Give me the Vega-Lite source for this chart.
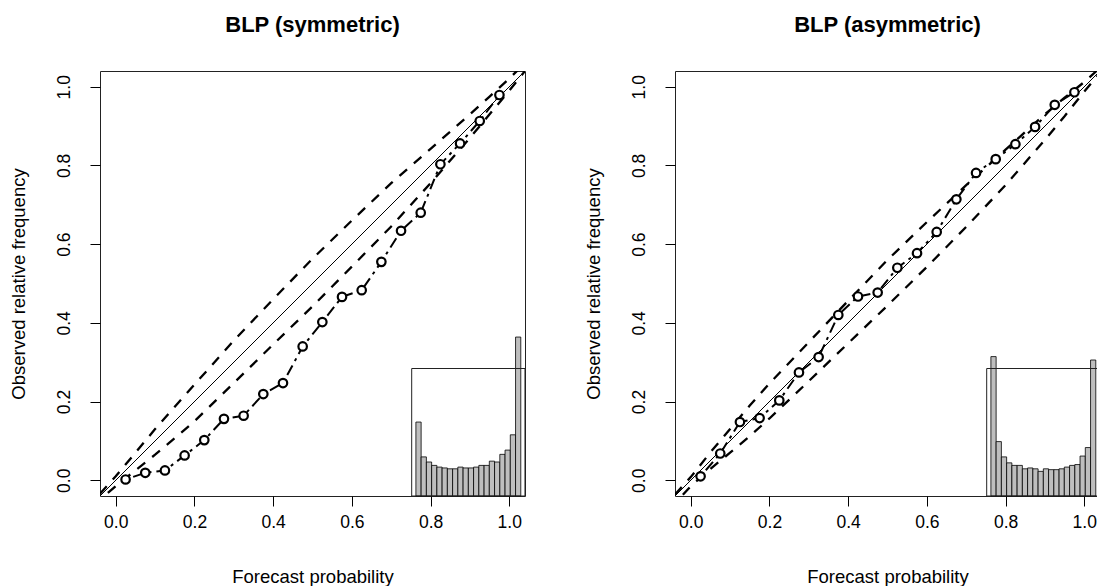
{
  "$schema": "https://vega.github.io/schema/vega-lite/v6.json",
  "padding": {"left": 8, "top": 13, "right": 0, "bottom": 0},
  "spacing": 57,
  "datasets": {
    "bands": [
      {"panel": "sym", "band": "upper", "x": -0.04, "y": -0.034},
      {"panel": "sym", "band": "upper", "x": 0.0, "y": 0.01},
      {"panel": "sym", "band": "upper", "x": 0.05, "y": 0.07},
      {"panel": "sym", "band": "upper", "x": 0.1, "y": 0.13},
      {"panel": "sym", "band": "upper", "x": 0.15, "y": 0.187},
      {"panel": "sym", "band": "upper", "x": 0.2, "y": 0.243},
      {"panel": "sym", "band": "upper", "x": 0.3, "y": 0.355},
      {"panel": "sym", "band": "upper", "x": 0.4, "y": 0.46},
      {"panel": "sym", "band": "upper", "x": 0.5, "y": 0.563},
      {"panel": "sym", "band": "upper", "x": 0.6, "y": 0.66},
      {"panel": "sym", "band": "upper", "x": 0.7, "y": 0.755},
      {"panel": "sym", "band": "upper", "x": 0.8, "y": 0.842},
      {"panel": "sym", "band": "upper", "x": 0.9, "y": 0.93},
      {"panel": "sym", "band": "upper", "x": 0.95, "y": 0.975},
      {"panel": "sym", "band": "upper", "x": 1.0, "y": 1.021},
      {"panel": "sym", "band": "upper", "x": 1.04, "y": 1.06},
      {"panel": "sym", "band": "lower", "x": -0.02, "y": -0.032},
      {"panel": "sym", "band": "lower", "x": 0.0, "y": -0.015},
      {"panel": "sym", "band": "lower", "x": 0.05, "y": 0.025},
      {"panel": "sym", "band": "lower", "x": 0.1, "y": 0.065},
      {"panel": "sym", "band": "lower", "x": 0.15, "y": 0.107},
      {"panel": "sym", "band": "lower", "x": 0.2, "y": 0.15},
      {"panel": "sym", "band": "lower", "x": 0.3, "y": 0.247},
      {"panel": "sym", "band": "lower", "x": 0.4, "y": 0.345},
      {"panel": "sym", "band": "lower", "x": 0.5, "y": 0.442},
      {"panel": "sym", "band": "lower", "x": 0.6, "y": 0.543},
      {"panel": "sym", "band": "lower", "x": 0.7, "y": 0.645},
      {"panel": "sym", "band": "lower", "x": 0.8, "y": 0.755},
      {"panel": "sym", "band": "lower", "x": 0.9, "y": 0.87},
      {"panel": "sym", "band": "lower", "x": 0.95, "y": 0.93},
      {"panel": "sym", "band": "lower", "x": 1.0, "y": 0.99},
      {"panel": "sym", "band": "lower", "x": 1.04, "y": 1.04},
      {"panel": "asym", "band": "upper", "x": -0.04, "y": -0.036},
      {"panel": "asym", "band": "upper", "x": 0.0, "y": 0.008},
      {"panel": "asym", "band": "upper", "x": 0.05, "y": 0.071},
      {"panel": "asym", "band": "upper", "x": 0.1, "y": 0.13},
      {"panel": "asym", "band": "upper", "x": 0.15, "y": 0.19},
      {"panel": "asym", "band": "upper", "x": 0.2, "y": 0.246},
      {"panel": "asym", "band": "upper", "x": 0.3, "y": 0.351},
      {"panel": "asym", "band": "upper", "x": 0.4, "y": 0.456},
      {"panel": "asym", "band": "upper", "x": 0.5, "y": 0.56},
      {"panel": "asym", "band": "upper", "x": 0.6, "y": 0.656},
      {"panel": "asym", "band": "upper", "x": 0.7, "y": 0.75},
      {"panel": "asym", "band": "upper", "x": 0.8, "y": 0.84},
      {"panel": "asym", "band": "upper", "x": 0.9, "y": 0.93},
      {"panel": "asym", "band": "upper", "x": 0.95, "y": 0.972},
      {"panel": "asym", "band": "upper", "x": 1.0, "y": 1.012},
      {"panel": "asym", "band": "upper", "x": 1.04, "y": 1.048},
      {"panel": "asym", "band": "lower", "x": -0.02, "y": -0.037},
      {"panel": "asym", "band": "lower", "x": 0.0, "y": -0.015},
      {"panel": "asym", "band": "lower", "x": 0.05, "y": 0.029},
      {"panel": "asym", "band": "lower", "x": 0.1, "y": 0.07},
      {"panel": "asym", "band": "lower", "x": 0.15, "y": 0.112},
      {"panel": "asym", "band": "lower", "x": 0.2, "y": 0.157},
      {"panel": "asym", "band": "lower", "x": 0.3, "y": 0.252},
      {"panel": "asym", "band": "lower", "x": 0.4, "y": 0.348},
      {"panel": "asym", "band": "lower", "x": 0.5, "y": 0.444},
      {"panel": "asym", "band": "lower", "x": 0.6, "y": 0.542},
      {"panel": "asym", "band": "lower", "x": 0.7, "y": 0.644},
      {"panel": "asym", "band": "lower", "x": 0.8, "y": 0.75},
      {"panel": "asym", "band": "lower", "x": 0.9, "y": 0.865},
      {"panel": "asym", "band": "lower", "x": 0.95, "y": 0.925},
      {"panel": "asym", "band": "lower", "x": 1.0, "y": 0.988},
      {"panel": "asym", "band": "lower", "x": 1.04, "y": 1.035}
    ],
    "points": [
      {"panel": "sym", "x": 0.025, "y": 0.002},
      {"panel": "sym", "x": 0.075, "y": 0.019},
      {"panel": "sym", "x": 0.125, "y": 0.025},
      {"panel": "sym", "x": 0.175, "y": 0.063},
      {"panel": "sym", "x": 0.225, "y": 0.102},
      {"panel": "sym", "x": 0.275, "y": 0.156},
      {"panel": "sym", "x": 0.325, "y": 0.164},
      {"panel": "sym", "x": 0.375, "y": 0.219},
      {"panel": "sym", "x": 0.425, "y": 0.247},
      {"panel": "sym", "x": 0.475, "y": 0.34},
      {"panel": "sym", "x": 0.525, "y": 0.402},
      {"panel": "sym", "x": 0.575, "y": 0.466},
      {"panel": "sym", "x": 0.625, "y": 0.483},
      {"panel": "sym", "x": 0.675, "y": 0.555},
      {"panel": "sym", "x": 0.725, "y": 0.634},
      {"panel": "sym", "x": 0.775, "y": 0.68},
      {"panel": "sym", "x": 0.825, "y": 0.803},
      {"panel": "sym", "x": 0.875, "y": 0.856},
      {"panel": "sym", "x": 0.925, "y": 0.913},
      {"panel": "sym", "x": 0.975, "y": 0.979},
      {"panel": "asym", "x": 0.025, "y": 0.01},
      {"panel": "asym", "x": 0.075, "y": 0.068},
      {"panel": "asym", "x": 0.125, "y": 0.148},
      {"panel": "asym", "x": 0.175, "y": 0.158},
      {"panel": "asym", "x": 0.225, "y": 0.203},
      {"panel": "asym", "x": 0.275, "y": 0.274},
      {"panel": "asym", "x": 0.325, "y": 0.313},
      {"panel": "asym", "x": 0.375, "y": 0.42},
      {"panel": "asym", "x": 0.425, "y": 0.467},
      {"panel": "asym", "x": 0.475, "y": 0.477},
      {"panel": "asym", "x": 0.525, "y": 0.54},
      {"panel": "asym", "x": 0.575, "y": 0.577},
      {"panel": "asym", "x": 0.625, "y": 0.631},
      {"panel": "asym", "x": 0.675, "y": 0.714},
      {"panel": "asym", "x": 0.725, "y": 0.781},
      {"panel": "asym", "x": 0.775, "y": 0.816},
      {"panel": "asym", "x": 0.825, "y": 0.854},
      {"panel": "asym", "x": 0.875, "y": 0.898},
      {"panel": "asym", "x": 0.925, "y": 0.954},
      {"panel": "asym", "x": 0.975, "y": 0.986}
    ],
    "hist": [
      {"panel": "sym", "bin_start": 0.0, "bin_end": 0.05, "freq": 0.087},
      {"panel": "sym", "bin_start": 0.05, "bin_end": 0.1, "freq": 0.046},
      {"panel": "sym", "bin_start": 0.1, "bin_end": 0.15, "freq": 0.04},
      {"panel": "sym", "bin_start": 0.15, "bin_end": 0.2, "freq": 0.036},
      {"panel": "sym", "bin_start": 0.2, "bin_end": 0.25, "freq": 0.034},
      {"panel": "sym", "bin_start": 0.25, "bin_end": 0.3, "freq": 0.033},
      {"panel": "sym", "bin_start": 0.3, "bin_end": 0.35, "freq": 0.032},
      {"panel": "sym", "bin_start": 0.35, "bin_end": 0.4, "freq": 0.032},
      {"panel": "sym", "bin_start": 0.4, "bin_end": 0.45, "freq": 0.034},
      {"panel": "sym", "bin_start": 0.45, "bin_end": 0.5, "freq": 0.033},
      {"panel": "sym", "bin_start": 0.5, "bin_end": 0.55, "freq": 0.033},
      {"panel": "sym", "bin_start": 0.55, "bin_end": 0.6, "freq": 0.034},
      {"panel": "sym", "bin_start": 0.6, "bin_end": 0.65, "freq": 0.036},
      {"panel": "sym", "bin_start": 0.65, "bin_end": 0.7, "freq": 0.036},
      {"panel": "sym", "bin_start": 0.7, "bin_end": 0.75, "freq": 0.041},
      {"panel": "sym", "bin_start": 0.75, "bin_end": 0.8, "freq": 0.04},
      {"panel": "sym", "bin_start": 0.8, "bin_end": 0.85, "freq": 0.049},
      {"panel": "sym", "bin_start": 0.85, "bin_end": 0.9, "freq": 0.054},
      {"panel": "sym", "bin_start": 0.9, "bin_end": 0.95, "freq": 0.072},
      {"panel": "sym", "bin_start": 0.95, "bin_end": 1.0, "freq": 0.187},
      {"panel": "asym", "bin_start": 0.0, "bin_end": 0.05, "freq": 0.164},
      {"panel": "asym", "bin_start": 0.05, "bin_end": 0.1, "freq": 0.064},
      {"panel": "asym", "bin_start": 0.1, "bin_end": 0.15, "freq": 0.046},
      {"panel": "asym", "bin_start": 0.15, "bin_end": 0.2, "freq": 0.039},
      {"panel": "asym", "bin_start": 0.2, "bin_end": 0.25, "freq": 0.036},
      {"panel": "asym", "bin_start": 0.25, "bin_end": 0.3, "freq": 0.036},
      {"panel": "asym", "bin_start": 0.3, "bin_end": 0.35, "freq": 0.032},
      {"panel": "asym", "bin_start": 0.35, "bin_end": 0.4, "freq": 0.033},
      {"panel": "asym", "bin_start": 0.4, "bin_end": 0.45, "freq": 0.032},
      {"panel": "asym", "bin_start": 0.45, "bin_end": 0.5, "freq": 0.029},
      {"panel": "asym", "bin_start": 0.5, "bin_end": 0.55, "freq": 0.032},
      {"panel": "asym", "bin_start": 0.55, "bin_end": 0.6, "freq": 0.031},
      {"panel": "asym", "bin_start": 0.6, "bin_end": 0.65, "freq": 0.031},
      {"panel": "asym", "bin_start": 0.65, "bin_end": 0.7, "freq": 0.032},
      {"panel": "asym", "bin_start": 0.7, "bin_end": 0.75, "freq": 0.034},
      {"panel": "asym", "bin_start": 0.75, "bin_end": 0.8, "freq": 0.036},
      {"panel": "asym", "bin_start": 0.8, "bin_end": 0.85, "freq": 0.037},
      {"panel": "asym", "bin_start": 0.85, "bin_end": 0.9, "freq": 0.047},
      {"panel": "asym", "bin_start": 0.9, "bin_end": 0.95, "freq": 0.057},
      {"panel": "asym", "bin_start": 0.95, "bin_end": 1.0, "freq": 0.16}
    ]
  },
  "hconcat": [
    {
      "width": 425,
      "height": 425,
      "title": {"text": "BLP (symmetric)"},
      "layer": [
        {
          "data": {"values": [{}]},
          "mark": {"type": "rule", "color": "black", "strokeWidth": 1, "clip": true},
          "encoding": {
            "x": {"datum": -0.04, "type": "quantitative", "scale": {"domain": [-0.04, 1.04], "nice": false, "zero": false},
              "axis": {"values": [0, 0.2, 0.4, 0.6, 0.8, 1], "format": ".1f", "title": "Forecast probability", "labelPadding": 7, "titleY": 80, "titleBaseline": "middle", "labelFlush": false, "labelOverlap": false}},
            "y": {"datum": -0.04, "type": "quantitative", "scale": {"domain": [-0.04, 1.04], "nice": false, "zero": false},
              "axis": {"values": [0, 0.2, 0.4, 0.6, 0.8, 1], "format": ".1f", "title": "Observed relative frequency", "labelAngle": 270, "labelAlign": "center", "labelBaseline": "alphabetic", "labelPadding": 21, "titleX": -82, "titleY": 212.5, "titleAngle": 270, "titleBaseline": "middle", "labelFlush": false, "labelOverlap": false}},
            "x2": {"datum": 1.04},
            "y2": {"datum": 1.04}
          }
        },
        {
          "data": {"name": "bands"},
          "transform": [{"filter": "datum.panel === 'sym'"}],
          "mark": {"type": "line", "color": "black", "strokeWidth": 2.3, "strokeDash": [10, 9], "clip": true},
          "encoding": {
            "x": {"field": "x", "type": "quantitative", "scale": {"domain": [-0.04, 1.04], "nice": false, "zero": false}, "axis": null},
            "y": {"field": "y", "type": "quantitative", "scale": {"domain": [-0.04, 1.04], "nice": false, "zero": false}, "axis": null},
            "detail": {"field": "band"},
            "order": {"field": "x"}
          }
        },
        {
          "data": {"name": "points"},
          "transform": [{"filter": "datum.panel === 'sym'"}],
          "mark": {"type": "line", "color": "black", "strokeWidth": 2, "strokeDash": [3, 5, 11, 5], "clip": true},
          "encoding": {
            "x": {"field": "x", "type": "quantitative", "scale": {"domain": [-0.04, 1.04], "nice": false, "zero": false}, "axis": null},
            "y": {"field": "y", "type": "quantitative", "scale": {"domain": [-0.04, 1.04], "nice": false, "zero": false}, "axis": null},
            "order": {"field": "x"}
          }
        },
        {
          "data": {"name": "points"},
          "transform": [{"filter": "datum.panel === 'sym'"}],
          "mark": {"type": "circle", "fill": "white", "fillOpacity": 1, "stroke": "black", "strokeWidth": 2.2, "size": 72, "opacity": 1},
          "encoding": {
            "x": {"field": "x", "type": "quantitative", "scale": {"domain": [-0.04, 1.04], "nice": false, "zero": false}, "axis": null},
            "y": {"field": "y", "type": "quantitative", "scale": {"domain": [-0.04, 1.04], "nice": false, "zero": false}, "axis": null}
          }
        },
        {
          "data": {"name": "hist"},
          "transform": [{"filter": "datum.panel === 'sym'"}],
          "mark": {"type": "rect", "fill": "#bebebe", "stroke": "black", "strokeWidth": 0.8},
          "encoding": {
            "x": {"field": "bin_start", "type": "quantitative", "scale": {"domain": [-3.0114, 1.0401], "nice": false, "zero": false}, "axis": null},
            "x2": {"field": "bin_end"},
            "y": {"field": "freq", "type": "quantitative", "scale": {"domain": [0, 0.5], "nice": false, "zero": false}, "axis": null},
            "y2": {"datum": 0}
          }
        },
        {
          "data": {"values": [{}]},
          "mark": {"type": "rect", "fill": null, "fillOpacity": 0, "stroke": "#222", "strokeWidth": 1},
          "encoding": {
            "x": {"datum": -0.04, "type": "quantitative", "scale": {"domain": [-3.0114, 1.0401], "nice": false, "zero": false}, "axis": null},
            "x2": {"datum": 1.04},
            "y": {"datum": 0, "type": "quantitative", "scale": {"domain": [0, 0.5], "nice": false, "zero": false}, "axis": null},
            "y2": {"datum": 0.15}
          }
        }
      ],
      "resolve": {"scale": {"x": "independent", "y": "independent"}}
    },
    {
      "width": 425,
      "height": 425,
      "title": {"text": "BLP (asymmetric)"},
      "layer": [
        {
          "data": {"values": [{}]},
          "mark": {"type": "rule", "color": "black", "strokeWidth": 1, "clip": true},
          "encoding": {
            "x": {"datum": -0.04, "type": "quantitative", "scale": {"domain": [-0.04, 1.04], "nice": false, "zero": false},
              "axis": {"values": [0, 0.2, 0.4, 0.6, 0.8, 1], "format": ".1f", "title": "Forecast probability", "labelPadding": 7, "titleY": 80, "titleBaseline": "middle", "labelFlush": false, "labelOverlap": false}},
            "y": {"datum": -0.04, "type": "quantitative", "scale": {"domain": [-0.04, 1.04], "nice": false, "zero": false},
              "axis": {"values": [0, 0.2, 0.4, 0.6, 0.8, 1], "format": ".1f", "title": "Observed relative frequency", "labelAngle": 270, "labelAlign": "center", "labelBaseline": "alphabetic", "labelPadding": 21, "titleX": -82, "titleY": 212.5, "titleAngle": 270, "titleBaseline": "middle", "labelFlush": false, "labelOverlap": false}},
            "x2": {"datum": 1.04},
            "y2": {"datum": 1.04}
          }
        },
        {
          "data": {"name": "bands"},
          "transform": [{"filter": "datum.panel === 'asym'"}],
          "mark": {"type": "line", "color": "black", "strokeWidth": 2.3, "strokeDash": [10, 9], "clip": true},
          "encoding": {
            "x": {"field": "x", "type": "quantitative", "scale": {"domain": [-0.04, 1.04], "nice": false, "zero": false}, "axis": null},
            "y": {"field": "y", "type": "quantitative", "scale": {"domain": [-0.04, 1.04], "nice": false, "zero": false}, "axis": null},
            "detail": {"field": "band"},
            "order": {"field": "x"}
          }
        },
        {
          "data": {"name": "points"},
          "transform": [{"filter": "datum.panel === 'asym'"}],
          "mark": {"type": "line", "color": "black", "strokeWidth": 2, "strokeDash": [3, 5, 11, 5], "clip": true},
          "encoding": {
            "x": {"field": "x", "type": "quantitative", "scale": {"domain": [-0.04, 1.04], "nice": false, "zero": false}, "axis": null},
            "y": {"field": "y", "type": "quantitative", "scale": {"domain": [-0.04, 1.04], "nice": false, "zero": false}, "axis": null},
            "order": {"field": "x"}
          }
        },
        {
          "data": {"name": "points"},
          "transform": [{"filter": "datum.panel === 'asym'"}],
          "mark": {"type": "circle", "fill": "white", "fillOpacity": 1, "stroke": "black", "strokeWidth": 2.2, "size": 72, "opacity": 1},
          "encoding": {
            "x": {"field": "x", "type": "quantitative", "scale": {"domain": [-0.04, 1.04], "nice": false, "zero": false}, "axis": null},
            "y": {"field": "y", "type": "quantitative", "scale": {"domain": [-0.04, 1.04], "nice": false, "zero": false}, "axis": null}
          }
        },
        {
          "data": {"name": "hist"},
          "transform": [{"filter": "datum.panel === 'asym'"}],
          "mark": {"type": "rect", "fill": "#bebebe", "stroke": "black", "strokeWidth": 0.8},
          "encoding": {
            "x": {"field": "bin_start", "type": "quantitative", "scale": {"domain": [-3.0114, 1.0401], "nice": false, "zero": false}, "axis": null},
            "x2": {"field": "bin_end"},
            "y": {"field": "freq", "type": "quantitative", "scale": {"domain": [0, 0.5], "nice": false, "zero": false}, "axis": null},
            "y2": {"datum": 0}
          }
        },
        {
          "data": {"values": [{}]},
          "mark": {"type": "rect", "fill": null, "fillOpacity": 0, "stroke": "#222", "strokeWidth": 1},
          "encoding": {
            "x": {"datum": -0.04, "type": "quantitative", "scale": {"domain": [-3.0114, 1.0401], "nice": false, "zero": false}, "axis": null},
            "x2": {"datum": 1.04},
            "y": {"datum": 0, "type": "quantitative", "scale": {"domain": [0, 0.5], "nice": false, "zero": false}, "axis": null},
            "y2": {"datum": 0.15}
          }
        }
      ],
      "resolve": {"scale": {"x": "independent", "y": "independent"}}
    }
  ],
  "config": {
    "font": "Liberation Sans",
    "view": {"stroke": "#222", "strokeWidth": 1},
    "axis": {"grid": false, "domain": false, "ticks": true, "tickColor": "black", "tickSize": 10, "tickWidth": 1, "labelColor": "black", "labelFont": "Liberation Sans", "labelFontSize": 17.5, "titleColor": "black", "titleFont": "Liberation Sans", "titleFontSize": 18.5, "titleFontWeight": "normal"},
    "title": {"font": "Liberation Sans", "fontSize": 22, "fontWeight": "bold", "color": "black", "anchor": "middle", "offset": 34, "baseline": "alphabetic"}
  }
}
